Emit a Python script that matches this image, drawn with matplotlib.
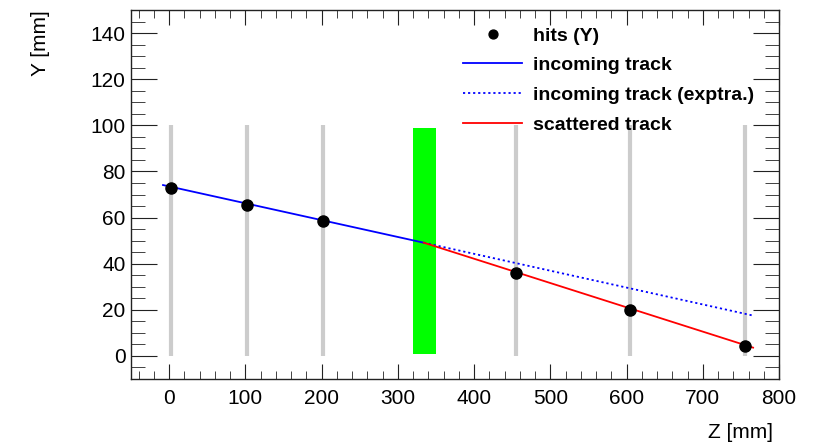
import matplotlib
matplotlib.use("Agg")
import matplotlib.pyplot as plt
import numpy as np
from matplotlib.ticker import MultipleLocator

plt.rcParams['font.family'] = ['Liberation Sans', 'DejaVu Sans']

# detector planes (z positions) and their y extent
plane_z = [3, 102, 202, 455, 605, 755]
plane_y = [0, 100]

# target region
target_z = [320, 350]
target_y = [1, 99]

# hits
hit_z = [3, 102, 202, 455, 605, 755]
hit_y = [73.0, 65.6, 58.5, 35.8, 20.1, 4.5]

# tracks
incoming_z = [-8, 334]
incoming_y = [74.1, 49.1]
extrap_z = [334, 766]
extrap_y = [49.1, 17.5]
scattered_z = [334, 766]
scattered_y = [49.1, 3.6]

xlim = (-50, 800)
ylim = (-10, 150)

fig = plt.figure(figsize=(8.23, 4.45), dpi=100)
ax = fig.add_axes([131/823, 1-379/445, (779-131)/823, (379-10)/445])

for z in plane_z:
    ax.plot([z, z], plane_y, color='#cccccc', lw=3, solid_capstyle='butt', zorder=1)

ax.fill_between(target_z, target_y[0], target_y[1], color='#00ff00', lw=0, zorder=2)

ax.plot(incoming_z, incoming_y, color='#0000ff', lw=1.3, zorder=3, label='incoming track')
ax.plot(extrap_z, extrap_y, color='#0000ff', lw=1.3, ls=(0, (1.2, 1.6)), zorder=3,
        label='incoming track (exptra.)')
ax.plot(scattered_z, scattered_y, color='#ff0000', lw=1.3, zorder=3, label='scattered track')
ax.plot(hit_z, hit_y, 'o', color='black', ms=8, zorder=4, label='hits (Y)')

ax.set_xlim(*xlim)
ax.set_ylim(*ylim)
ax.xaxis.set_major_locator(MultipleLocator(100))
ax.xaxis.set_minor_locator(MultipleLocator(20))
ax.yaxis.set_major_locator(MultipleLocator(20))
ax.yaxis.set_minor_locator(MultipleLocator(5))
ax.tick_params(which='both', direction='in', top=True, right=True, labelsize=15,
               color='#222222')
ax.tick_params(axis='x', which='major', length=11, pad=7)
ax.tick_params(axis='x', which='minor', length=5.5)
ax.tick_params(axis='y', which='major', length=19, pad=4)
ax.tick_params(axis='y', which='minor', length=10)
for s in ax.spines.values():
    s.set_linewidth(1.0)
    s.set_color('#222222')

handles, labels = ax.get_legend_handles_labels()
order = [3, 0, 1, 2]
leg = ax.legend([handles[i] for i in order], [labels[i] for i in order],
                frameon=False, loc='upper left',
                bbox_to_anchor=(463/823, 1-27/445), bbox_transform=fig.transFigure,
                prop={'weight': 'bold', 'size': 14}, handlelength=3.05,
                handletextpad=0.55, borderpad=0, borderaxespad=0, labelspacing=0.62,
                markerscale=0.8)

fig.text(773/823, 1-432/445, 'Z [mm]', ha='right', va='center', fontsize=15)
fig.text(40/823, 1-10/445, 'Y [mm]', ha='center', va='top', rotation=90, fontsize=15)

fig.savefig('out.png', dpi=100)
